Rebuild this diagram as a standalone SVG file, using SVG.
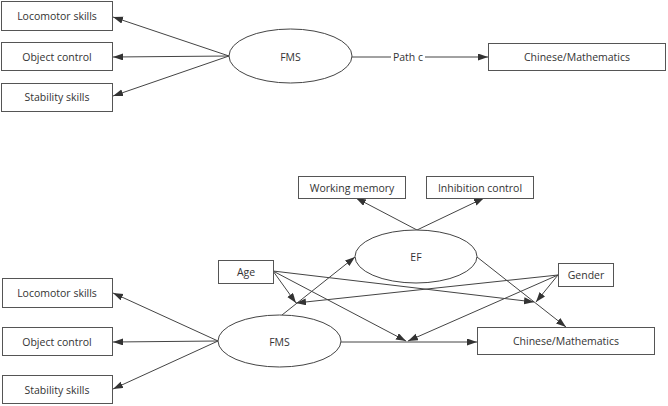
<svg xmlns="http://www.w3.org/2000/svg" width="668" height="406" viewBox="0 0 668 406">
<style>
.box{fill:#fff;stroke:#555;stroke-width:1}
.ell{fill:#fff;stroke:#444;stroke-width:1}
.t{font-family:"Open Sans","Noto Sans",sans-serif;font-size:10.5px;fill:#333;text-anchor:middle;dominant-baseline:central}
.c{fill:none;stroke:#444;stroke-width:1;marker-end:url(#ah)}
.n{fill:none;stroke:#444;stroke-width:1}
</style>
<defs>
<marker id="ah" markerUnits="userSpaceOnUse" markerWidth="11" markerHeight="8" refX="10" refY="3.5" orient="auto">
<path d="M0,0 L10,3.5 L0,7 z" fill="#333"/>
</marker>
</defs>
<g id="connectors">
<path class="c" d="M229,56 L113,17"/>
<path class="c" d="M229,56 L113,57"/>
<path class="c" d="M229,56 L113,96"/>
<path class="c" d="M352,57 L488,57"/>
<path class="c" d="M417,230 L356,198"/>
<path class="c" d="M417,230 L484,198"/>
<path class="c" d="M218,341 L113,293"/>
<path class="c" d="M218,341 L113,342"/>
<path class="c" d="M218,341 L113,389"/>
<path class="c" d="M282,315 L355,257"/>
<path class="c" d="M341,342 L477,342"/>
<path class="c" d="M477,257 L566,327"/>
<path class="c" d="M273,271 L296,303"/>
<path class="c" d="M273,271 L406,341"/>
<path class="c" d="M273,271 L534,302"/>
<path class="c" d="M558,275 L296,303"/>
<path class="c" d="M558,275 L408,341"/>
<path class="c" d="M558,275 L536,302"/>
<rect x="391" y="50" width="34" height="14" fill="#fff"/>
<text class="t" x="408" y="57">Path c</text>
</g>
<g id="top-locomotor"><rect class="box" x="1.5" y="1.5" width="111" height="29"/><text class="t" x="57" y="16">Locomotor skills</text></g>
<g id="top-object"><rect class="box" x="1.5" y="42.5" width="111" height="28"/><text class="t" x="57" y="57">Object control</text></g>
<g id="top-stability"><rect class="box" x="1.5" y="83.5" width="111" height="28"/><text class="t" x="57" y="97">Stability skills</text></g>
<g id="top-fms"><ellipse class="ell" cx="290.5" cy="56" rx="61.5" ry="27"/><text class="t" x="290.5" y="57">FMS</text></g>
<g id="top-chinese"><rect class="box" x="488.5" y="43.5" width="177" height="27"/><text class="t" x="577" y="57">Chinese/Mathematics</text></g>
<g id="working-memory"><rect class="box" x="298.5" y="176.5" width="107" height="22"/><text class="t" x="352" y="187.5">Working memory</text></g>
<g id="inhibition"><rect class="box" x="426.5" y="176.5" width="107" height="22"/><text class="t" x="480" y="187.5">Inhibition control</text></g>
<g id="ef"><ellipse class="ell" cx="416" cy="256.5" rx="61" ry="26.5"/><text class="t" x="416" y="257">EF</text></g>
<g id="age"><rect class="box" x="218.5" y="260.5" width="55" height="23"/><text class="t" x="246" y="272">Age</text></g>
<g id="gender"><rect class="box" x="558.5" y="263.5" width="55" height="23"/><text class="t" x="586" y="275">Gender</text></g>
<g id="bot-locomotor"><rect class="box" x="2.5" y="278.5" width="110" height="29"/><text class="t" x="57" y="293">Locomotor skills</text></g>
<g id="bot-object"><rect class="box" x="2.5" y="327.5" width="110" height="28"/><text class="t" x="57" y="342">Object control</text></g>
<g id="bot-stability"><rect class="box" x="2.5" y="375.5" width="110" height="28"/><text class="t" x="57" y="390">Stability skills</text></g>
<g id="bot-fms"><ellipse class="ell" cx="279.5" cy="341" rx="61.5" ry="26"/><text class="t" x="279.5" y="342">FMS</text></g>
<g id="bot-chinese"><rect class="box" x="477.5" y="327.5" width="177" height="27"/><text class="t" x="566" y="341">Chinese/Mathematics</text></g>
</svg>
